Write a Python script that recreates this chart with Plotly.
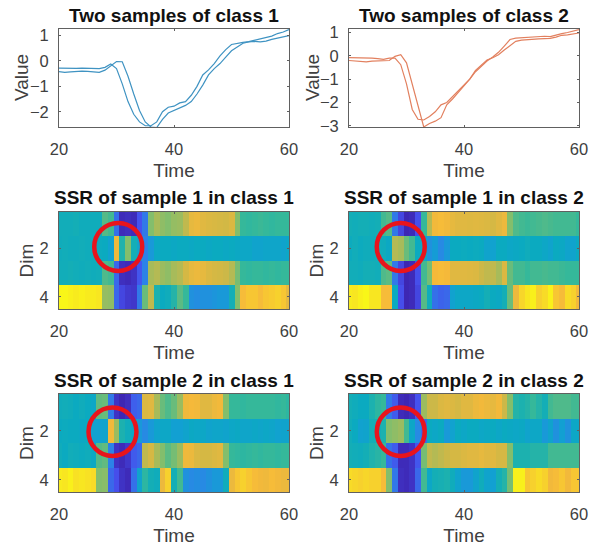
import plotly.graph_objects as go

# ---------- line data ----------
time_line = list(range(20, 61))
c1_s1 = [-.28,-.29,-.30,-.29,-.28,-.29,-.30,-.30,-.25,-.12,
         -.30,-.90,-1.6,-2.1,-2.4,-2.55,-2.55,-2.4,-2.0,-1.82,
         -1.78,-1.65,-1.60,-1.35,-1.0,-.55,-.35,-.10,.20,.45,
         .65,.70,.73,.76,.82,.88,.93,.98,1.08,1.14,1.24]
c1_s2 = [-.42,-.45,-.43,-.41,-.40,-.41,-.42,-.45,-.36,-.20,
         -.02,-.03,-.60,-1.3,-1.95,-2.4,-2.6,-2.62,-2.3,-2.05,
         -1.95,-1.85,-1.75,-1.6,-1.3,-.95,-.55,-.30,-.10,.15,
         .40,.55,.70,.75,.77,.75,.78,.85,.90,.95,1.0]
c2_s1 = [-.08,-.08,-.10,-.11,-.10,-.12,-.15,-.10,-.10,-.38,
         -1.2,-2.3,-2.72,-2.75,-2.6,-2.4,-2.1,-2.0,-1.75,-1.5,
         -1.25,-1.0,-.68,-.45,-.22,-.05,.15,.42,.70,.76,
         .78,.80,.80,.82,.84,.82,.90,.95,1.0,1.05,1.12]
c2_s2 = [-.20,-.21,-.23,-.26,-.23,-.22,-.23,-.20,-.02,.05,
         -.30,-1.2,-2.2,-3.05,-2.9,-2.8,-2.65,-2.1,-1.85,-1.55,
         -1.3,-1.0,-.62,-.40,-.18,-.08,.05,.25,.45,.62,
         .67,.70,.72,.73,.74,.75,.80,.88,.90,.93,.98]

# ---------- heatmap data: columns x = 20..60 ----------
dim_rows = [1, 2, 3, 4]

s1c1_r1 = [.41,.41,.41,.42,.40,.40,.40,.40,.55,.52, .20,.03,.04,.03,.13,.22,.62,.68,.64,.62,
           .65,.66,.72,.82,.84,.80,.78,.77,.76,.75, .78,.62,.50,.49,.50,.51,.50,.49,.50,.50, .50]
s1c1_r2 = [.40,.41,.40,.40,.41,.40,.40,.39,.38,.33, .85,.45,.62,.42,.34,.24,.30,.37,.38,.38,
           .37,.38,.38,.37,.38,.38,.37,.38,.38,.37, .38,.37,.36,.36,.34,.34,.35,.35,.35,.34, .36]
s1c1_r3 = [.41,.41,.42,.41,.40,.41,.40,.41,.54,.52, .18,.04,.03,.05,.14,.24,.68,.70,.66,.64,
           .68,.70,.76,.82,.84,.82,.78,.76,.75,.74, .70,.60,.50,.49,.50,.50,.49,.50,.49,.50, .50]
s1c1_r4 = [.99,.99,.98,.97,.98,.97,.97,.96,.65,.64, .18,.10,.07,.06,.22,.58,.72,.44,.38,.40,
           .46,.56,.50,.28,.27,.28,.28,.29,.30,.30, .42,.62,.88,.90,.90,.88,.90,.91,.92,.90, .82]

s1c2_r1 = [.42,.41,.42,.42,.41,.42,.52,.55,.22,.10, .02,.03,.12,.50,.70,.86,.88,.86,.82,.80,
           .80,.79,.80,.79,.78,.76,.80,.84,.62,.54, .52,.51,.52,.53,.54,.53,.52,.52,.52,.52, .50]
s1c2_r2 = [.39,.41,.39,.40,.40,.41,.40,.37,.70,.68, .58,.52,.38,.36,.28,.31,.26,.30,.38,.38,
           .39,.38,.39,.38,.34,.33,.38,.38,.36,.37, .38,.40,.38,.38,.36,.34,.38,.37,.34,.34, .38]
s1c2_r3 = [.41,.41,.40,.42,.42,.41,.54,.56,.22,.10, .02,.03,.12,.52,.60,.87,.88,.87,.80,.80,
           .80,.79,.78,.74,.72,.72,.68,.78,.58,.52, .52,.50,.52,.52,.53,.52,.52,.51,.50,.50, .50]
s1c2_r4 = [.97,.96,.98,.99,.96,.96,.88,.88,.38,.12, .02,.03,.10,.55,.40,.20,.17,.18,.33,.36,
           .36,.36,.37,.38,.42,.38,.37,.42,.58,.84, .93,.96,.98,.92,.94,.98,.90,.88,.94,.92, .86]

s2c1_r1 = [.40,.41,.40,.38,.40,.38,.36,.57,.58,.22, .05,.02,.04,.16,.18,.78,.80,.68,.58,.54,
           .58,.66,.85,.87,.86,.80,.80,.84,.86,.62, .50,.50,.49,.50,.50,.50,.50,.50,.49,.50, .48]
s2c1_r2 = [.38,.39,.38,.38,.37,.38,.33,.33,.34,.86, .66,.44,.40,.36,.30,.26,.30,.34,.36,.36,
           .32,.32,.34,.37,.36,.36,.34,.35,.35,.34, .36,.37,.35,.35,.36,.35,.36,.35,.33,.34, .34]
s2c1_r3 = [.40,.38,.41,.40,.39,.40,.37,.55,.57,.24, .05,.03,.06,.15,.18,.72,.76,.68,.62,.56,
           .60,.66,.85,.84,.78,.76,.76,.78,.80,.62, .50,.49,.48,.49,.50,.49,.50,.50,.49,.50, .50]
s2c1_r4 = [.97,.96,.98,.95,.96,.95,.94,.62,.63,.18, .12,.05,.03,.20,.34,.48,.42,.40,.84,.92,
           .42,.52,.28,.26,.27,.26,.28,.30,.30,.40, .84,.90,.92,.90,.88,.86,.85,.88,.86,.84, .84]

s2c2_r1 = [.42,.40,.38,.38,.44,.48,.50,.22,.15,.03, .02,.04,.13,.66,.74,.74,.78,.80,.78,.76,
           .80,.80,.84,.86,.84,.82,.86,.74,.62,.46, .44,.46,.50,.46,.42,.52,.54,.54,.54,.52, .52]
s2c2_r2 = [.41,.38,.33,.34,.42,.42,.44,.62,.64,.66, .52,.36,.26,.18,.38,.36,.38,.30,.33,.38,
           .36,.38,.38,.36,.37,.38,.36,.38,.37,.36, .37,.34,.36,.36,.30,.34,.28,.32,.28,.36, .36]
s2c2_r3 = [.42,.41,.40,.42,.45,.47,.50,.20,.15,.03, .03,.05,.14,.60,.72,.70,.72,.74,.76,.76,
           .78,.80,.80,.82,.80,.80,.76,.76,.62,.44, .44,.44,.46,.46,.46,.52,.52,.52,.52,.52, .52]
s2c2_r4 = [.94,.93,.92,.93,.92,.92,.88,.62,.22,.04, .03,.05,.18,.52,.36,.42,.43,.44,.40,.34,
           .30,.30,.34,.40,.34,.32,.42,.46,.60,.98, .98,.90,.92,.94,.92,.86,.88,.90,.86,.90, .90]

panel_titles = ["Two samples of class 1", "Two samples of class 2",
                "SSR of sample 1 in class 1", "SSR of sample 1 in class 2",
                "SSR of sample 2 in class 1", "SSR of sample 2 in class 2"]
circle_centres = [(30.3, 1.94), (29.0, 1.94), (29.3, 2.04), (29.0, 2.04)]

# ---------- style ----------
W, H = 608, 546
FONT = "Liberation Sans"
GREY = "#404040"
parula = [[0, "#3B1FA8"], [.125, "#4650EE"], [.25, "#2A86E6"], [.32, "#12A0D2"], [.38, "#0BAAC0"], [.42, "#14AEB6"],
          [.5, "#35B89A"], [.625, "#86BE6A"], [.75, "#D2B845"], [.875, "#F6B93A"], [1, "#F9FB15"]]
left_cols = [(59, 289), (349, 579)]
row_px = [(29, 127), (212, 309), (394, 492)]
title_y = [15, 197, 380]
value_label_x = [22, 313]

fig = go.Figure()
layout = dict(width=W, height=H, margin=dict(l=0, r=0, t=0, b=0), showlegend=False,
              paper_bgcolor="white", plot_bgcolor="white",
              font=dict(family=FONT, size=16, color=GREY), annotations=[], shapes=[])


def style_axes(idx, col, row, yrange, ytickvals):
    x0, x1 = left_cols[col]
    y0, y1 = row_px[row]
    s = "" if idx == 1 else str(idx)
    common = dict(showgrid=False, zeroline=False, showline=True, linecolor="#606060", linewidth=1,
                  mirror="ticks", ticks="inside", ticklen=2, tickcolor="#606060", automargin=False,
                  tickfont=dict(size=16.5, color=GREY))
    layout["xaxis" + s] = dict(common, domain=[x0 / W, x1 / W], range=[20, 60], tickvals=[20, 40, 60],
                               anchor="y" + s, ticklabelstandoff=7,
                               title=dict(text="Time", font=dict(size=19, color=GREY), standoff=6))
    layout["yaxis" + s] = dict(common, domain=[1 - y1 / H, 1 - y0 / H], range=yrange, tickvals=ytickvals,
                               anchor="x" + s, ticklabelstandoff=6)
    if row == 0:
        layout["annotations"].append(dict(text="Value", xref="paper", yref="paper", x=value_label_x[col] / W,
                                          y=1 - (y0 + y1) / 2 / H, textangle=-90, xanchor="center", yanchor="middle",
                                          showarrow=False, font=dict(size=19, color=GREY, family=FONT)))
    else:
        layout["yaxis" + s]["title"] = dict(text="Dim", font=dict(size=19, color=GREY), standoff=0)
    layout["annotations"].append(dict(text="<b>" + panel_titles[idx - 1] + "</b>", xref="paper", yref="paper",
                                      x=(x0 + x1) / 2 / W, y=1 - title_y[row] / H, xanchor="center", yanchor="middle",
                                      showarrow=False, font=dict(size=19, color="#111111", family=FONT)))


for idx, (a, b, col_line, yr, yt) in enumerate([
        (c1_s1, c1_s2, "#3F93C2", [-2.6, 1.26], [-2, -1, 0, 1]),
        (c2_s1, c2_s2, "#E2805F", [-3.05, 1.15], [-3, -2, -1, 0, 1])], start=1):
    s = "" if idx == 1 else str(idx)
    for series in (a, b):
        fig.add_trace(go.Scatter(x=time_line, y=series, mode="lines", xaxis="x" + s, yaxis="y" + s,
                                 line=dict(color=col_line, width=1.2)))
    style_axes(idx, idx - 1, 0, yr, yt)

heat = [[s1c1_r1, s1c1_r2, s1c1_r3, s1c1_r4], [s1c2_r1, s1c2_r2, s1c2_r3, s1c2_r4],
        [s2c1_r1, s2c1_r2, s2c1_r3, s2c1_r4], [s2c2_r1, s2c2_r2, s2c2_r3, s2c2_r4]]
for k, z in enumerate(heat):
    idx = k + 3
    s = str(idx)
    fig.add_trace(go.Heatmap(z=z, x=time_line, y=dim_rows, xaxis="x" + s, yaxis="y" + s, zmin=0, zmax=1,
                             colorscale=parula, showscale=False, zsmooth=False))
    style_axes(idx, k % 2, 1 + k // 2, [4.5, 0.5], [2, 4])
    cx, cy = circle_centres[k]
    layout["shapes"].append(dict(type="circle", xref="x" + s, yref="y" + s, x0=cx - 4.17, x1=cx + 4.17,
                                 y0=cy - 0.99, y1=cy + 0.99, line=dict(color="#E8141C", width=4.5)))

fig.update_layout(**layout)
fig.write_html("out.html", config={"displayModeBar": False}, post_script="document.body.style.margin='0';")
